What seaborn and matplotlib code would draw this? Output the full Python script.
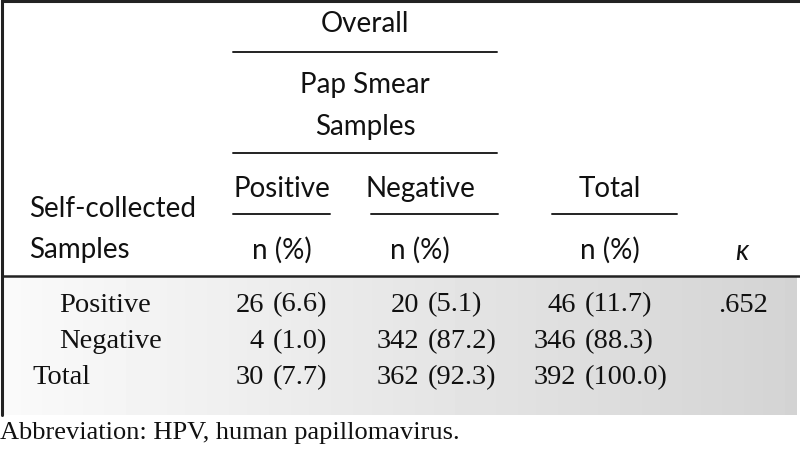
import numpy as np
import matplotlib
matplotlib.use("Agg")
import matplotlib.pyplot as plt
import seaborn as sns

## Table data
row_labels = ["Positive", "Negative", "Total"]
pap_pos_n = ["26", "4", "30"]
pap_pos_pct = ["(6.6)", "(1.0)", "(7.7)"]
pap_neg_n = ["20", "342", "362"]
pap_neg_pct = ["(5.1)", "(87.2)", "(92.3)"]
total_n = ["46", "346", "392"]
total_pct = ["(11.7)", "(88.3)", "(100.0)"]
kappa = [".652", "", ""]

header_group = "Overall"
header_sub = ["Pap Smear", "Samples"]
col_headers = ["Positive", "Negative", "Total"]
unit_label = "n (%)"
stub_header = ["Self-collected", "Samples"]
footnote = "Abbreviation: HPV, human papillomavirus."

## Style
sns.set_theme(style="white")
HEAD_FONT = ["Lato", "DejaVu Sans"]
BODY_FONT = ["Liberation Serif", "DejaVu Serif"]

W, H = 800, 472
fig = plt.figure(figsize=(W / 100, H / 100), dpi=100)
ax = fig.add_axes([0, 0, 1, 1])
ax.set_xlim(0, W)
ax.set_ylim(H, 0)
ax.axis("off")

## Layout (pixel coordinates)
body_top, body_bottom = 277, 415
row_y = [305, 342, 378]
paren_x = [273, 428, 585]
kappa_x = 718
col_centers = [282, 420, 610]
kappa_center = 742

## gray gradient behind the body
grad = np.linspace(0.98, 0.83, 256).reshape(1, -1)
ax.imshow(grad, cmap="gray", vmin=0, vmax=1, aspect="auto",
          extent=(2, 797, body_bottom, body_top), zorder=0)

## rules
ax.plot([2, 800], [1, 1], color="#222222", lw=2.2)
ax.plot([2, 2], [0, body_bottom], color="#222222", lw=2.2)
ax.plot([2, 800], [276, 276], color="#222222", lw=1.8)
ax.plot([233, 497], [52, 52], color="#222222", lw=1.4)
ax.plot([233, 497], [153, 153], color="#222222", lw=1.4)
ax.plot([233, 330], [214, 214], color="#222222", lw=1.4)
ax.plot([371, 498], [214, 214], color="#222222", lw=1.4)
ax.plot([552, 677], [214, 214], color="#222222", lw=1.4)

## header text
hkw = dict(family=HEAD_FONT, fontsize=20, color="#111111")
ax.text(365, 24, header_group, ha="center", va="center", **hkw)
for y, line in zip([85, 127], header_sub):
    ax.text(365, y, line, ha="center", va="center", **hkw)
for x, lab in zip(col_centers, col_headers):
    ax.text(x, 189, lab, ha="center", va="center", **hkw)
    ax.text(x, 250, unit_label, ha="center", va="center", **hkw)
for y, line in zip([209, 250], stub_header):
    ax.text(29, y, line, ha="left", va="center", **hkw)
ax.text(kappa_center, 252, "κ", ha="center", va="center",
        style="italic", **hkw)

## body text
bkw = dict(family=BODY_FONT, fontsize=20.5, color="#111111", va="center")
indent = [59, 59, 32]
for i, lab in enumerate(row_labels):
    y = row_y[i]
    ax.text(indent[i], y, lab, ha="left", **bkw)
    cols = [(pap_pos_n, pap_pos_pct), (pap_neg_n, pap_neg_pct),
            (total_n, total_pct)]
    for px, (ns, pcts) in zip(paren_x, cols):
        ax.text(px - 9, y, ns[i], ha="right", **bkw)
        ax.text(px, y, pcts[i], ha="left", **bkw)
    ax.text(kappa_x, y, kappa[i], ha="left", **bkw)

ax.text(0, 433, footnote, ha="left", family=BODY_FONT, fontsize=19,
        color="#111111", va="center")

fig.savefig("out.png", dpi=100)
